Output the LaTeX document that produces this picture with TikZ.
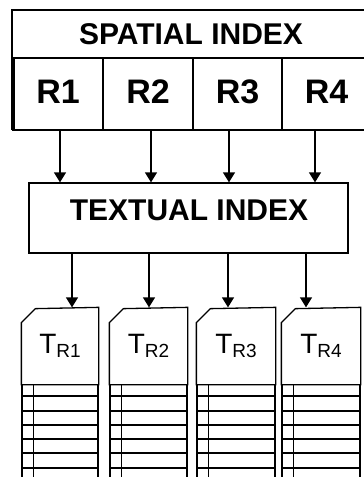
\documentclass[tikz,border=0pt]{standalone}
\usepackage{fontspec}
\setmainfont{Liberation Sans}
\usetikzlibrary{arrows.meta}
\begin{document}
\begin{tikzpicture}[x=1pt,y=-1pt,line width=1.3pt,
  cell/.style={draw,minimum width=89pt,minimum height=72pt,inner sep=0pt,
    text height=24pt,text depth=6pt,
    font=\fontsize{34}{36}\selectfont\bfseries},
  heading/.style={inner sep=0pt,font=\fontsize{30}{36}\selectfont\bfseries},
  dochead/.style={inner sep=0pt,minimum width=76pt,minimum height=76pt,
    font=\fontsize{28}{30}\selectfont},
  link/.style={-{Triangle[width=12pt,length=10pt]}},
  gridline/.style={line width=1.3pt}]
\useasboundingbox (0,0) rectangle (364,477);
\clip (0,0) rectangle (364,477);

% spatial index frame
\draw (12,130) -- (12,10) -- (372,10);
\draw (12,58) -- (372,58);
\node[heading] (spatial) at (191,34) {SPATIAL INDEX};

% region cells
\node[cell,minimum width=90pt] (r1) at (58,94) {R1};
\node[cell] (r2) at (148,94) {R2};
\node[cell] (r3) at (237.5,94) {R3};
\node[cell] (r4) at (326.5,94) {R4};
\draw[line width=1.9pt] (14,58) -- (14,130);

% textual index
\node[draw,minimum width=319pt,minimum height=70pt,inner sep=0pt] (textual) at (188.5,218) {};
\node[heading] (tlabel) at (189,210) {TEXTUAL INDEX};

% arrows from regions into the textual index
\draw[link] (r1.south -| 60,0) -- (textual.north -| 60,0);
\draw[link] (r2.south -| 151,0) -- (textual.north -| 151,0);
\draw[link] (r3.south -| 229,0) -- (textual.north -| 229,0);
\draw[link] (r4.south -| 315,0) -- (textual.north -| 315,0);

% posting lists
\foreach \i/\l/\r in {1/22/98, 2/110/187, 3/197/275, 4/282/360}{
  \pgfmathsetmacro{\cx}{(\l+\r)/2}
  \pgfmathsetmacro{\w}{\r-\l}
  \node[dochead,minimum width=\w pt] (t\i) at (\cx,346)
    {T\raisebox{-4pt}{\fontsize{19}{19}\selectfont R\i}};
  \draw (t\i.south west) -- ++(0,-62) -- ++(14,-14) -- (t\i.north east)
    -- (t\i.south east) -- cycle;
  \draw[gridline] (\l,384) -- (\l,480) (\r,384) -- (\r,480)
    (\l+11.5,384) -- (\l+11.5,480);
  \foreach \y in {396,411,425,439,453,468}
    \draw[gridline] (\l,\y) -- (\r,\y);
}

% arrows from the textual index to the lists
\draw[link] (textual.south -| 72,0) -- (t1.north -| 72,0);
\draw[link] (textual.south -| 149,0) -- (t2.north -| 149,0);
\draw[link] (textual.south -| 228,0) -- (t3.north -| 228,0);
\draw[link] (textual.south -| 306,0) -- (t4.north -| 306,0);
\end{tikzpicture}
\end{document}
